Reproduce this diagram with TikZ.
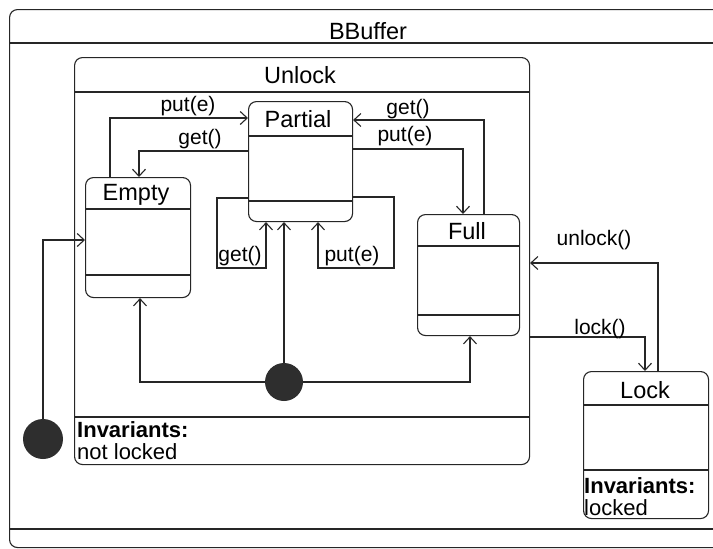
\documentclass[tikz,border=0pt]{standalone}
\usepackage{fontspec}
\setmainfont{Liberation Sans}
\usetikzlibrary{arrows.meta}
\begin{document}
\begin{tikzpicture}[x=1pt,y=-1pt,
  ln/.style={draw=black!85, line width=1.1pt},
  statebox/.style={draw=black!85, line width=1.1pt, rounded corners=8pt, inner sep=0pt, anchor=north west},
  ttl/.style={font=\fontsize{23.5}{26}\selectfont, inner sep=0pt},
  lbl/.style={font=\fontsize{21}{23}\selectfont, inner sep=0pt},
  inv/.style={font=\fontsize{22}{24}\selectfont, inner sep=0pt, anchor=west},
  tr/.style={draw=black!85, line width=1.1pt, -{Straight Barb[length=7pt,width=13pt,line width=1.1pt]}},
  init/.style={circle, fill=black!82, inner sep=0pt}]
\useasboundingbox (0,0) rectangle (713,549);
\clip (0,0) rectangle (713,549);
\fill[white] (0,0) rectangle (713,549);

% outer BBuffer
\node[statebox, minimum width=725pt, minimum height=538pt] (bbuf) at (9,9) {};
\node[ttl] (bbufT) at (368,31) {BBuffer};
\draw[ln] (bbuf.west |- 0,43) -- (bbuf.east |- 0,43);
\draw[ln] (bbuf.west |- 0,529) -- (bbuf.east |- 0,529);

% Unlock
\node[statebox, minimum width=455pt, minimum height=407pt] (unlock) at (74,57) {};
\node[ttl] (unlockT) at (300,75) {Unlock};
\draw[ln] (unlock.west |- 0,92) -- (unlock.east |- 0,92);
\draw[ln] (unlock.west |- 0,417) -- (unlock.east |- 0,417);
\node[inv] (unlockI) at (77,430) {\textbf{Invariants:}};
\node[inv] (unlockV) at (77,452) {not locked};

% Partial
\node[statebox, minimum width=104pt, minimum height=120pt] (partial) at (248,101) {};
\node[ttl] (partialT) at (298,119) {Partial};
\draw[ln] (partial.west |- 0,136) -- (partial.east |- 0,136);
\draw[ln] (partial.west |- 0,201) -- (partial.east |- 0,201);

% Empty
\node[statebox, minimum width=105pt, minimum height=120pt] (empty) at (85,177) {};
\node[ttl] (emptyT) at (136,195) {Empty};
\draw[ln] (empty.west |- 0,209) -- (empty.east |- 0,209);
\draw[ln] (empty.west |- 0,275) -- (empty.east |- 0,275);

% Full
\node[statebox, minimum width=102pt, minimum height=121pt] (full) at (417,214) {};
\node[ttl] (fullT) at (467,231) {Full};
\draw[ln] (full.west |- 0,246) -- (full.east |- 0,246);
\draw[ln] (full.west |- 0,315) -- (full.east |- 0,315);

% Lock
\node[statebox, minimum width=125pt, minimum height=147pt] (lock) at (583,371) {};
\node[ttl] (lockT) at (645,390) {Lock};
\draw[ln] (lock.west |- 0,405) -- (lock.east |- 0,405);
\draw[ln] (lock.west |- 0,470) -- (lock.east |- 0,470);
\node[inv] (lockI) at (584,486) {\textbf{Invariants:}};
\node[inv] (lockV) at (584,508) {locked};

% initial states
\node[init, minimum size=38pt] (dotA) at (284,382) {};
\node[init, minimum size=40pt] (dotB) at (43,439) {};

% transitions
\draw[tr] (empty.north -| 110,0) |- (partial.west |- 0,118);
\draw[tr] (partial.west |- 0,151) -| (empty.north -| 139,0);
\draw[tr] (full.north -| 484,0) |- (partial.east |- 0,120);
\draw[tr] (partial.east |- 0,149) -| (full.north -| 463,0);
\draw[tr] (partial.west |- 0,198) -| (217,268) -| (partial.south -| 266,0);
\draw[tr] (partial.east |- 0,197) -| (394,268) -| (partial.south -| 318,0);
\draw[tr] (dotA.north) -- (dotA.north |- partial.south);
\draw[tr] (dotA.west) -| (empty.south -| 140,0);
\draw[tr] (dotA.east) -| (full.south -| 470,0);
\draw[tr] (dotB.north) |- (empty.west |- 0,240);
\draw[tr] (lock.north -| 658,0) |- (unlock.east |- 0,263);
\draw[tr] (unlock.east |- 0,337) -| (lock.north -| 645,0);

% labels
\node[lbl] (l1) at (188,106) {put(e)};
\node[lbl] (l2) at (200,139) {get()};
\node[lbl] (l3) at (408,109) {get()};
\node[lbl] (l4) at (405,136) {put(e)};
\node[lbl] (l5) at (240,256) {get()};
\node[lbl] (l6) at (352,256) {put(e)};
\node[lbl] (l7) at (594,240) {unlock()};
\node[lbl] (l8) at (600,329) {lock()};
\end{tikzpicture}
\end{document}
